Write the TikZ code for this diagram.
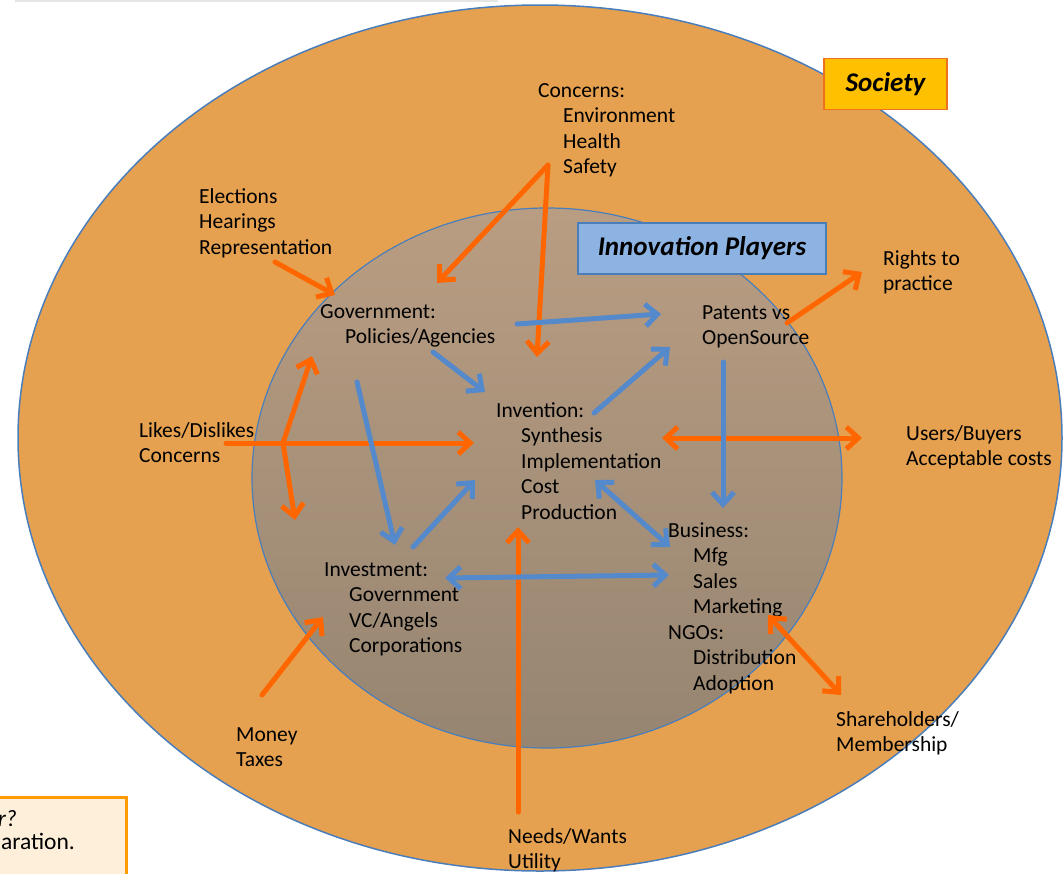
\documentclass[tikz,border=0pt]{standalone}
\usepackage{fontspec}
\setmainfont{Carlito}
\usetikzlibrary{arrows.meta}

\definecolor{societyfill}{RGB}{229,161,80}
\definecolor{rimblue}{RGB}{74,126,187}
\definecolor{playertop}{RGB}{185,157,130}
\definecolor{playerbottom}{RGB}{150,133,113}
\definecolor{flowred}{RGB}{255,102,0}
\definecolor{flowblue}{RGB}{84,137,204}
\definecolor{tagyellow}{RGB}{255,192,0}
\definecolor{tagorange}{RGB}{240,112,30}
\definecolor{tagblue}{RGB}{141,179,226}
\definecolor{notefill}{RGB}{253,239,218}
\definecolor{noteedge}{RGB}{255,154,0}

\newcommand{\indline}{\hspace*{25pt}}

\begin{document}
\begin{tikzpicture}[x=1pt, y=-1pt,
    txt/.style={anchor=base west, inner sep=0pt, align=left,
      font=\fontsize{21.5}{25.5}\selectfont},
    tag/.style={draw, line width=1.5pt, inner sep=0pt, minimum height=51pt,
      font=\fontsize{27}{30}\selectfont\bfseries\itshape},
    redflow/.style={flowred, line width=5pt, line cap=round,
      -{Straight Barb[length=12pt,width=22pt]}},
    redboth/.style={redflow, {Straight Barb[length=12pt,width=22pt]}-{Straight Barb[length=12pt,width=22pt]}},
    blueflow/.style={flowblue, line width=5pt, line cap=round,
      -{Straight Barb[length=12pt,width=22pt]}},
    blueboth/.style={blueflow, {Straight Barb[length=12pt,width=22pt]}-{Straight Barb[length=12pt,width=22pt]}}
  ]
  \clip (0,0) rectangle (1063,873);

  % Faint edge of the box above
  \draw[gray!20, line width=1.5pt] (15,1) -- (498,1);

  % Society and the players inside it
  \draw[rimblue, fill=societyfill, line width=1.5pt] (540,438) ellipse [x radius=522, y radius=433];
  \shade[top color=playertop, bottom color=playerbottom] (547,478) ellipse [x radius=295, y radius=270];
  \draw[rimblue, line width=1.2pt] (547,478) ellipse [x radius=295, y radius=270];

  % Title tags
  \node[tag, fill=tagyellow, draw=tagorange, minimum width=123pt] (society) at (885.5,84) {Society};
  \node[tag, fill=tagblue, draw=rimblue, minimum width=248pt] (players) at (702,248.5) {Innovation Players};

  % Note box, cut by the edge
  \draw[noteedge, fill=notefill, line width=3pt] (-20,797) rectangle (126,900);
  \node[anchor=base east, inner sep=0pt, font=\fontsize{23.5}{26}\selectfont\itshape] (noteA) at (17,826) {r?};
  \node[anchor=base east, inner sep=0pt, font=\fontsize{23.5}{26}\selectfont] (noteB) at (75,849) {aration.};

  % Labels in the outer ring (placed at the baseline of their last line)
  \node[txt] (concerns) at (538,173.5) {Concerns:\\ \indline Environment\\ \indline Health\\ \indline Safety};
  \node[txt] (elections) at (199,254) {Elections\\Hearings\\Representation};
  \node[txt] (rights) at (883,290.5) {Rights to\\practice};
  \node[txt] (likes) at (139,462.5) {Likes/Dislikes\\Concerns};
  \node[txt] (users) at (906,465.5) {Users/Buyers\\Acceptable costs};
  \node[txt] (holders) at (836,751.5) {Shareholders/\\Membership};
  \node[txt] (money) at (236,766.5) {Money\\Taxes};
  \node[txt] (needs) at (508,868.5) {Needs/Wants\\Utility};

  % Labels of the players
  \node[txt] (government) at (320,343.5) {Government:\\ \indline Policies/Agencies};
  \node[txt] (patents) at (702,344.5) {Patents vs\\OpenSource};
  \node[txt] (invention) at (496,519) {Invention:\\ \indline Synthesis\\ \indline Implementation\\ \indline Cost\\ \indline Production};
  \node[txt] (business) at (668,690) {Business:\\ \indline Mfg\\ \indline Sales\\ \indline Marketing\\NGOs:\\ \indline Distribution\\ \indline Adoption};
  \node[txt] (investment) at (324,652.5) {Investment:\\ \indline Government\\ \indline VC/Angels\\ \indline Corporations};

  % Arrow ends
  \coordinate (safetyFork) at (548,165);
  \coordinate (govIn) at (437,283);
  \coordinate (invTop) at (537,357);
  \coordinate (electOut) at (275,262);
  \coordinate (govEdge) at (335,295);
  \coordinate (likesOut) at (226,443);
  \coordinate (likesFork) at (283,443);
  \coordinate (invLeft) at (474,443);
  \coordinate (govLow) at (312,356);
  \coordinate (investUp) at (295,520);
  \coordinate (moneyOut) at (262,695);
  \coordinate (investLeft) at (323,617);
  \coordinate (needsOut) at (518,812);
  \coordinate (invLow) at (518,527);
  \coordinate (patRight) at (787,323);
  \coordinate (rightsIn) at (862,272);
  \coordinate (invRight) at (662,438);
  \coordinate (usersIn) at (862,438);
  \coordinate (busMark) at (768,615);
  \coordinate (holdersIn) at (841,695);
  \coordinate (govRight) at (517,324);
  \coordinate (patLeft) at (661,314);
  \coordinate (govBelow) at (433,352);
  \coordinate (invCorner) at (485,392);
  \coordinate (invNE) at (594,413);
  \coordinate (patLow) at (670,347);
  \coordinate (patBelow) at (723,362);
  \coordinate (busTop) at (723,508);
  \coordinate (govLeftLow) at (357,382);
  \coordinate (investTop) at (395,545);
  \coordinate (investNE) at (413,547);
  \coordinate (invSW) at (475,480);
  \coordinate (invSE) at (595,480);
  \coordinate (busCorner) at (670,547);
  \coordinate (investRight) at (445,578);
  \coordinate (busLeft) at (669,575);

  % Orange arrows from society
  \draw[redflow] (safetyFork) -- (govIn);
  \draw[redflow] (safetyFork) -- (invTop);
  \draw[redflow] (electOut) -- (govEdge);
  \draw[redflow] (likesOut) -- (invLeft);
  \draw[redflow] (likesFork) -- (govLow);
  \draw[redflow] (likesFork) -- (investUp);
  \draw[redflow] (moneyOut) -- (investLeft);
  \draw[redflow] (needsOut) -- (invLow);
  \draw[redflow] (patRight) -- (rightsIn);
  \draw[redboth] (invRight) -- (usersIn);
  \draw[redboth] (busMark) -- (holdersIn);

  % Blue arrows between players
  \draw[blueflow] (govRight) -- (patLeft);
  \draw[blueflow] (govBelow) -- (invCorner);
  \draw[blueflow] (invNE) -- (patLow);
  \draw[blueflow] (patBelow) -- (busTop);
  \draw[blueflow] (govLeftLow) -- (investTop);
  \draw[blueflow] (investNE) -- (invSW);
  \draw[blueboth] (invSE) -- (busCorner);
  \draw[blueboth] (investRight) -- (busLeft);
\end{tikzpicture}
\end{document}
